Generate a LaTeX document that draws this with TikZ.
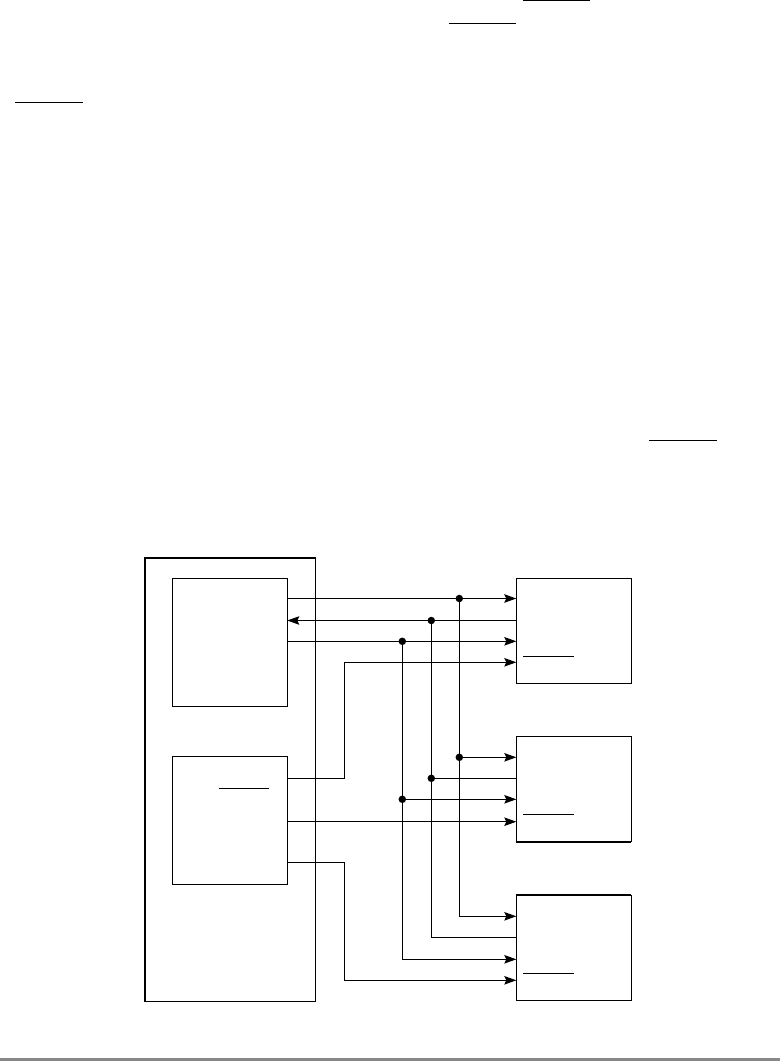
\documentclass[tikz,border=0pt]{standalone}
\usepackage{xcolor}
\usetikzlibrary{arrows.meta,positioning}
\definecolor{footgray}{HTML}{888888}
\tikzset{
  frame/.style={draw=black,line width=1pt,inner sep=0pt,outer sep=0pt,minimum width=171pt,minimum height=443pt},
  unit/.style={draw=black,line width=1pt,inner sep=0pt,outer sep=0pt,minimum width=114.6pt,minimum height=128pt},
  slave/.style={draw=black,line width=1pt,inner sep=0pt,outer sep=0pt,minimum width=115pt,minimum height=105.5pt},
  junc/.style={circle,fill=black,inner sep=0pt,outer sep=0pt,minimum size=7.5pt},
  wire/.style={line width=1pt},
  warr/.style={wire,-{Stealth[length=12pt,width=8.5pt,inset=2pt]}},
  heavy/.style={line width=2.4pt},
  bar/.style={line width=1pt},
}
\begin{document}
\begin{tikzpicture}[x=1pt,y=-1pt]
  \useasboundingbox (0,0) rectangle (780,1061);
  \fill[white] (0,0) rectangle (780,1061);
  \fill[footgray] (0,1058) rectangle (780,1061);
  % boxes
  \node[frame] (host) at (230.3,779.5) {};
  \node[unit] (ua) at (230,642.3) {};
  \node[unit] (ub) at (230,820.8) {};
  \node[slave] (s1) at (573.8,630.8) {};
  \node[slave] (s2) at (573.8,789.2) {};
  \node[slave] (s3) at (573.8,948) {};
  \draw[heavy] (host.south west) -- (host.north west) -- (host.north east);
  \draw[heavy] (s2.south west) -- (s2.south east);
  \draw[heavy] (s3.north west) -- (s3.north east);
  % junctions
  \node[junc] (ja1) at (459.3,598.5) {};
  \node[junc] (jb1) at (431.3,620.5) {};
  \node[junc] (jc1) at (402.3,641.3) {};
  \node[junc] (ja2) at (459.3,757.3) {};
  \node[junc] (jb2) at (431.3,778.3) {};
  \node[junc] (jc2) at (402.3,799.3) {};
  \coordinate (ja3) at (459.3,916.3);
  \coordinate (jb3) at (431.3,937.3);
  \coordinate (jc3) at (402.3,959.3);
  \coordinate (d1) at (344.3,662.3);
  \coordinate (d2) at (344.3,980.3);
  \coordinate (o1) at (ub.east |- 0,778.3);
  \coordinate (o2) at (ub.east |- 0,821.7);
  \coordinate (o3) at (ub.east |- 0,862.3);
  % first slave
  \draw[wire] (ua.east |- ja1) -- (ja1);
  \draw[warr] (ja1) -- (s1.west |- ja1);
  \draw[warr] (jb1) -- (ua.east |- jb1);
  \draw[wire] (s1.west |- jb1) -- (jb1);
  \draw[wire] (ua.east |- jc1) -- (jc1);
  \draw[warr] (jc1) -- (s1.west |- jc1);
  \draw[warr] (o1) -| (d1) -- (s1.west |- d1);
  % second slave
  \draw[warr] (ja2) -- (s2.west |- ja2);
  \draw[wire] (jb2) -- (s2.west |- jb2);
  \draw[warr] (jc2) -- (s2.west |- jc2);
  \draw[warr] (o2) -- (s2.west |- o2);
  % third slave
  \draw[wire] (ja1) -- (ja2) -- (ja3);
  \draw[wire] (jb1) -- (jb2) -- (jb3);
  \draw[wire] (jc1) -- (jc2) -- (jc3);
  \draw[warr] (ja3) -- (s3.west |- ja3);
  \draw[wire] (jb3) -- (s3.west |- jb3);
  \draw[warr] (jc3) -- (s3.west |- jc3);
  \draw[warr] (o3) -| (d2) -- (s3.west |- d2);
  % overbars
  \foreach \x/\y/\w in {522.8/0.7/67,448.8/23.3/67.5,15/102.3/67.5,649/440.6/67.5,219.3/788.3/49.4,523.3/656.3/50.7,523.3/814.3/50.7,523.3/973.3/50.7}
    \draw[bar] (\x,\y) -- ++(\w,0);
\end{tikzpicture}
\end{document}
